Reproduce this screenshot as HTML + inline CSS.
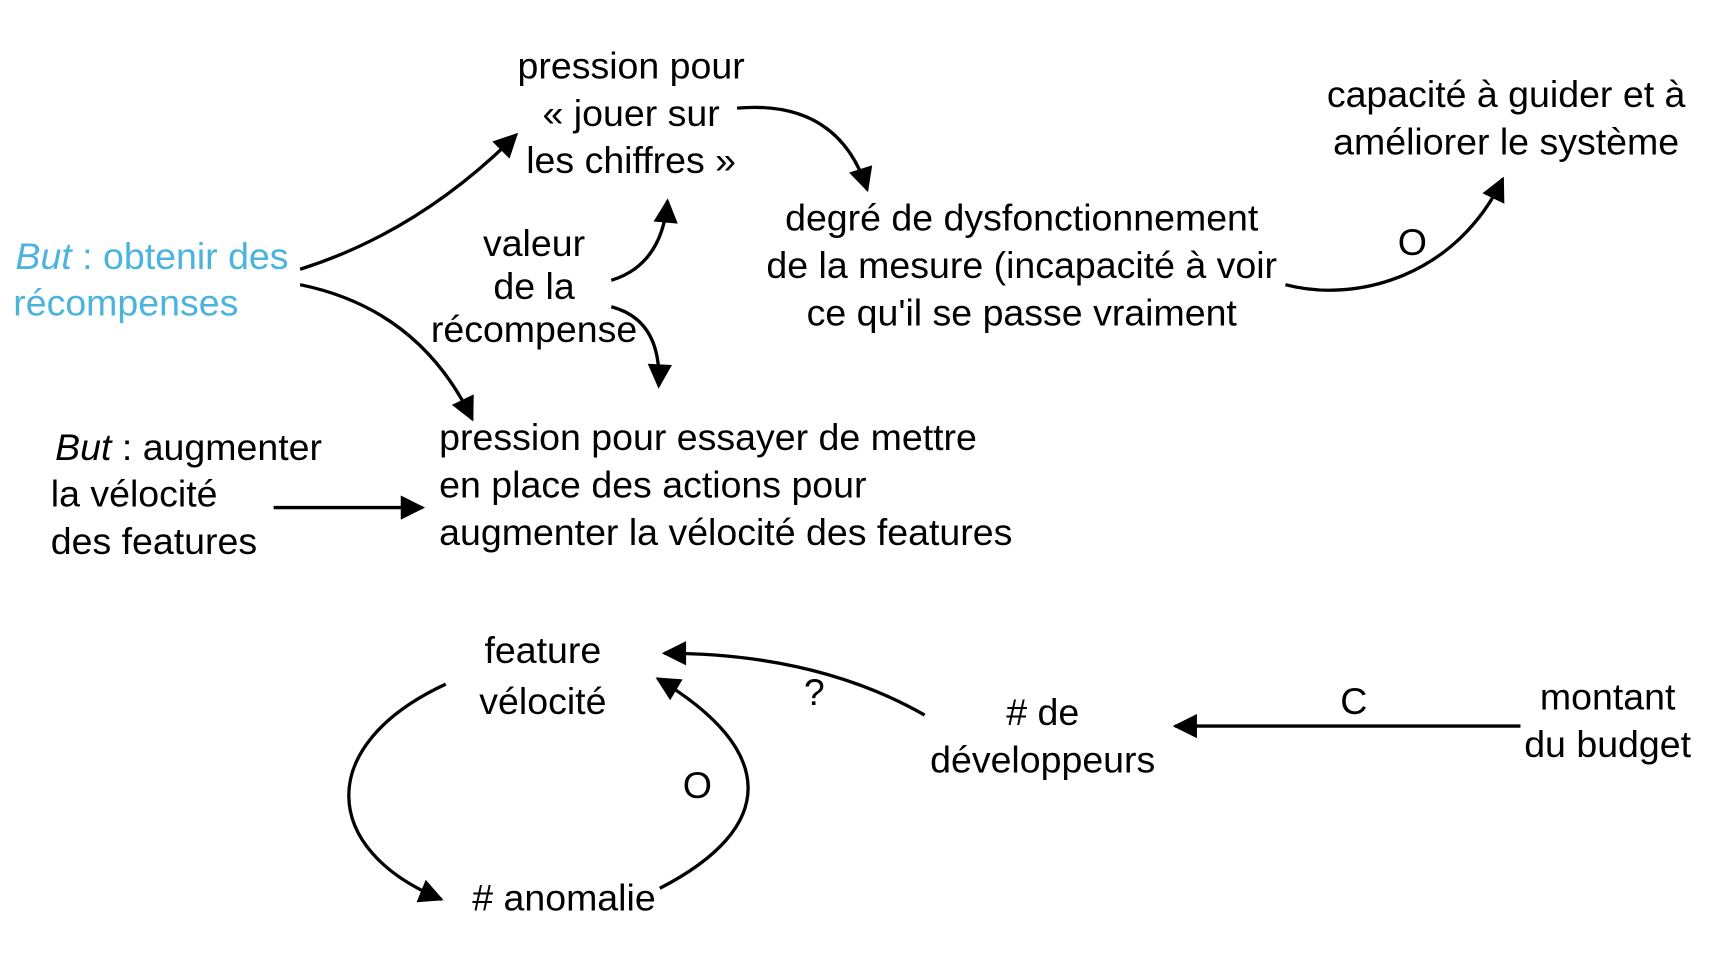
<!DOCTYPE html>
<html><head><meta charset="utf-8"><style>
html,body{margin:0;padding:0;background:#fff;}
svg{display:block;}
text{font-family:"Liberation Sans",Arial,sans-serif;font-size:34px;fill:#000;}
</style></head><body>
<svg width="1729" height="960" viewBox="0 0 1567 870" preserveAspectRatio="none" xmlns="http://www.w3.org/2000/svg">
<defs>
<marker id="b" viewBox="0 0 10 10" refX="9" refY="5" markerWidth="26" markerHeight="22" markerUnits="userSpaceOnUse" orient="auto">
<path d="M0,0 L10,5 L0,10 z" fill="#000"/></marker>
</defs>
<g fill="none" stroke="#000" stroke-width="3" marker-end="url(#b)">
<path d="M272,244 Q380,210 468,122"/>
<path d="M272,258 Q380,280 428,380"/>
<path d="M668,98 Q760,90 786,172"/>
<path d="M554,254 Q600,240 605,182"/>
<path d="M554,278 Q600,290 597,350"/>
<path d="M1165,258 C1230,275 1320,250 1362,162"/>
<path d="M248,460 L383,460"/>
<path d="M838,648 Q740,592 602,592"/>
<path d="M1378,658 L1065,658"/>
<path d="M404,620 C285,675 290,770 400,815"/>
<path d="M598,805 C705,750 705,680 596,615"/>
</g>
<g text-anchor="middle">
<text x="572" y="71">pression pour</text>
<text x="572" y="114">« jouer sur</text>
<text x="572" y="157">les chiffres »</text>
<text x="1365" y="97">capacité à guider et à</text>
<text x="1365" y="140">améliorer le système</text>
<text x="484" y="232">valeur</text>
<text x="484" y="271">de la</text>
<text x="484" y="310">récompense</text>
<text x="926" y="209">degré de dysfonctionnement</text>
<text x="926" y="252">de la mesure (incapacité à voir</text>
<text x="926" y="295">ce qu'il se passe vraiment</text>
<text x="1280" y="231">O</text>
<text x="492" y="601">feature</text>
<text x="492" y="647">vélocité</text>
<text x="738" y="639">?</text>
<text x="945" y="657"># de</text>
<text x="945" y="700">développeurs</text>
<text x="1227" y="647">C</text>
<text x="1457" y="643">montant</text>
<text x="1457" y="686">du budget</text>
<text x="632" y="723">O</text>
</g>
<text x="14" y="244" style="fill:#4ab3de"><tspan font-style="italic">But</tspan> : obtenir des</text>
<text x="12" y="286" style="fill:#4ab3de">récompenses</text>
<text x="50" y="417"><tspan font-style="italic">But</tspan> : augmenter</text>
<text x="46" y="459">la vélocité</text>
<text x="46" y="502">des features</text>
<text x="398" y="408">pression pour essayer de mettre</text>
<text x="398" y="451">en place des actions pour</text>
<text x="398" y="494">augmenter la vélocité des features</text>
<text x="428" y="825"># anomalie</text>
</svg>
</body></html>
